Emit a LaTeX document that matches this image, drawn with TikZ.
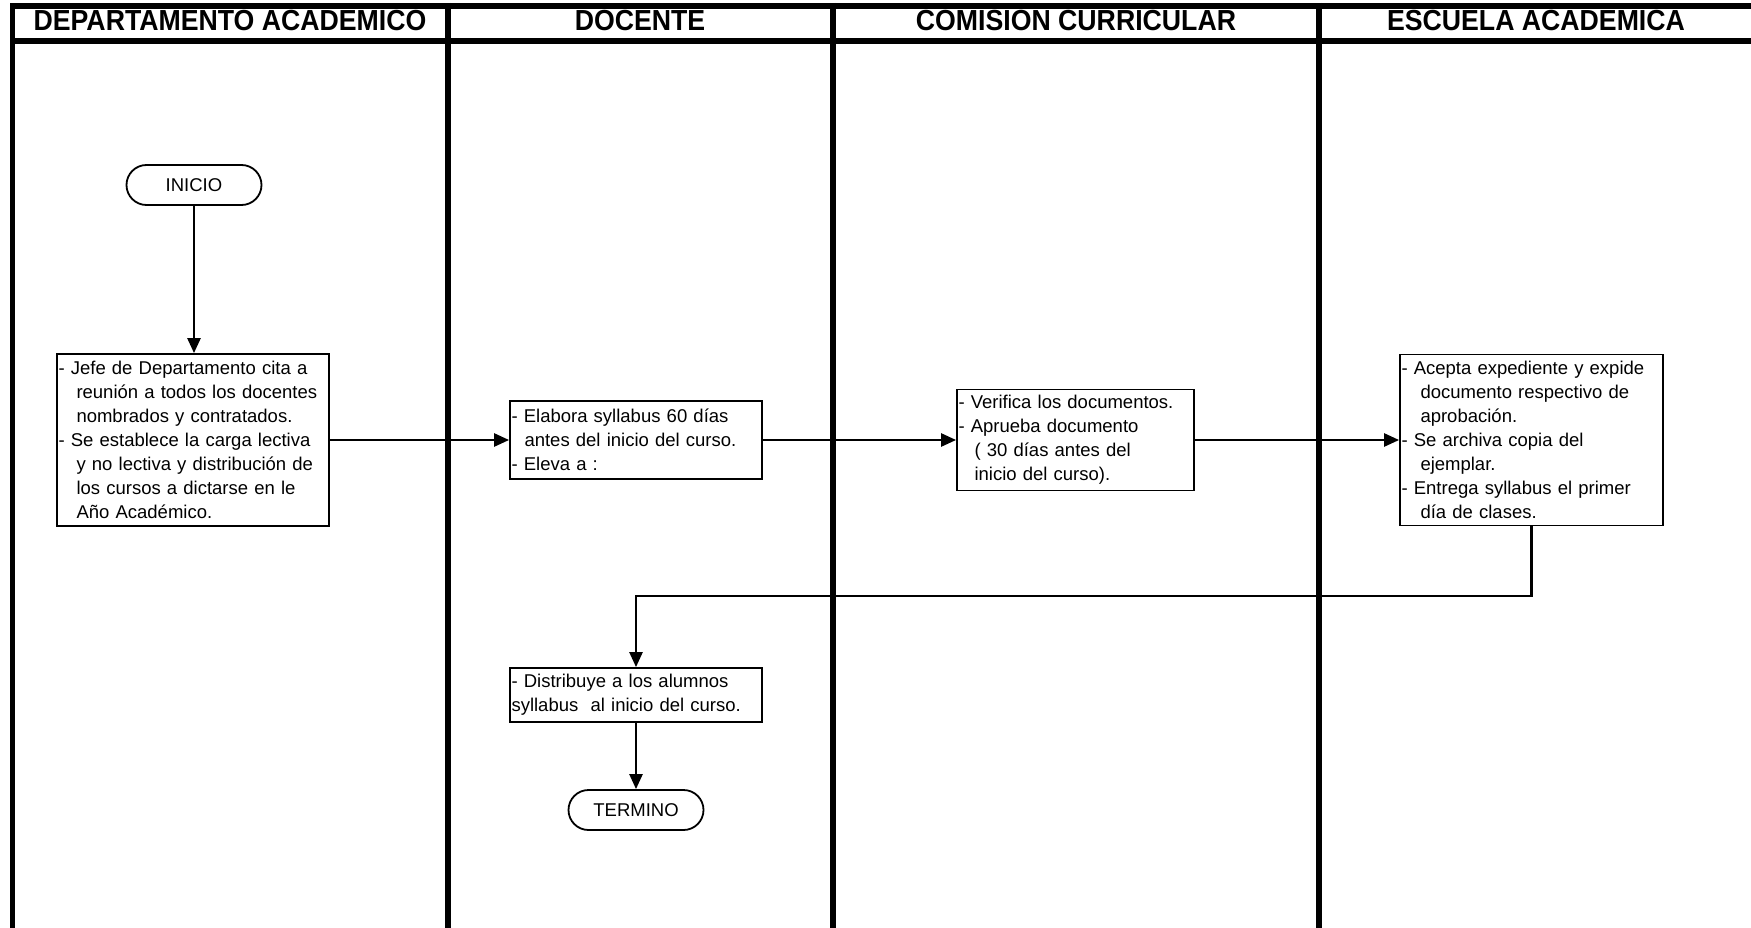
\documentclass[tikz,border=0pt]{standalone}
\usepackage{fontspec}
\setmainfont{Liberation Sans}
\usetikzlibrary{arrows.meta}
\begin{document}
\begin{tikzpicture}[x=1pt,y=-1pt,
  lane/.style={line width=6pt},
  hdr/.style={anchor=base, inner sep=0pt, font=\fontsize{29}{29}\selectfont\bfseries},
  stepbox/.style={draw, line width=1.8pt, align=left, inner xsep=1.5pt, inner ysep=0pt,
    font=\fontsize{18.5}{24}\selectfont},
  term/.style={draw, line width=1.8pt, rounded corners=20pt, minimum width=135pt,
    minimum height=40pt, inner sep=0pt, font=\fontsize{18.5}{24}\selectfont},
  arr/.style={line width=2.5pt, -{Triangle[length=15pt,width=13pt]}}]
\useasboundingbox (0,0) rectangle (1751,928);
\fill[white] (0,0) rectangle (1751,928);

% lane titles
\node[hdr] (hA) at (230,31) {\scalebox{0.92}[1]{DEPARTAMENTO ACADÉMICO}};
\node[hdr] (hB) at (640,31) {\scalebox{0.92}[1]{DOCENTE}};
\node[hdr] (hC) at (1076,31) {\scalebox{0.92}[1]{COMISIÓN CURRICULAR}};
\node[hdr] (hD) at (1536,31) {\scalebox{0.92}[1]{ESCUELA ACADÉMICA}};

% swimlane frame
\draw[lane] (10,6) -- (1751,6);
\draw[lane] (10,41.5) -- (1751,41.5);
\draw[line width=5pt] (12.5,3.5) -- (12.5,928);
\draw[lane] (447.5,3) -- (447.5,928);
\draw[lane] (833,3) -- (833,928);
\draw[lane] (1319,3) -- (1319,928);

% steps
\node[term] (inicio) at (194,185) {INICIO};
\node[stepbox, text width=269pt, minimum height=172pt] (jefe) at (193,440)
  {- Jefe de Departamento cita a\\
   \hspace*{18pt}reunión a todos los docentes\\
   \hspace*{18pt}nombrados y contratados.\\
   - Se establece la carga lectiva\\
   \hspace*{18pt}y no lectiva y distribución de\\
   \hspace*{18pt}los cursos a dictarse en le\\
   \hspace*{18pt}Año Académico.};
\node[stepbox, text width=249pt, minimum height=78pt] (elabora) at (636,440)
  {- Elabora syllabus 60 días\\
   \hspace*{13pt}antes del inicio del curso.\\
   - Eleva a :};
\node[stepbox, text width=234pt, minimum height=101pt] (verifica) at (1075.5,440)
  {- Verifica los documentos.\\
   - Aprueba documento\\
   \hspace*{16pt}( 30 días antes del\\
   \hspace*{16pt}inicio del curso).};
\node[stepbox, text width=260pt, minimum height=171pt] (acepta) at (1531.5,440)
  {- Acepta expediente y expide\\
   \hspace*{19pt}documento respectivo de\\
   \hspace*{19pt}aprobación.\\
   - Se archiva copia del\\
   \hspace*{19pt}ejemplar.\\
   - Entrega syllabus el primer\\
   \hspace*{19pt}día de clases.};
\node[stepbox, text width=249pt, minimum height=54pt] (distribuye) at (636,695)
  {- Distribuye a los alumnos\\
   syllabus\ \ al inicio del curso.};
\node[term] (termino) at (636,810) {TERMINO};

% connectors
\coordinate (elbow) at (636,596);
\draw[arr] (inicio.south) -- (inicio.south |- jefe.north);
\draw[arr] (jefe.east) -- (elabora.west);
\draw[arr] (elabora.east) -- (verifica.west);
\draw[arr] (verifica.east) -- (acepta.west);
\draw[arr] (acepta.south) |- (elbow) -- (distribuye.north);
\draw[arr] (distribuye.south) -- (termino.north);
\end{tikzpicture}
\end{document}
